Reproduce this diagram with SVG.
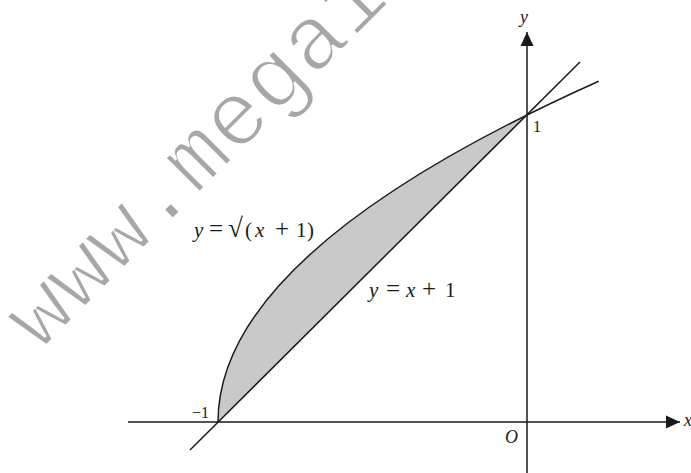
<svg xmlns="http://www.w3.org/2000/svg" width="691" height="473" viewBox="0 0 691 473">
<style>
.ax{stroke:#1a1a1a;stroke-width:1.5;fill:none}
.cv{stroke:#1a1a1a;stroke-width:1.5;fill:none}
.lb{font-family:"Liberation Serif","Times New Roman",serif;fill:#1a1a1a}
.it{font-style:italic}
.op{font-size:25px}
.wm{font-family:"Liberation Mono","Courier New",monospace;fill:#a7a7a9;stroke:#ffffff;stroke-width:2.5;paint-order:normal}
</style>
<defs>
<marker id="arr" markerUnits="userSpaceOnUse" markerWidth="15" markerHeight="14" refX="14" refY="7" orient="auto">
<path d="M0,0.5 L14,7 L0,13.5 Z" fill="#1a1a1a"/>
</marker>
</defs>
<rect width="691" height="473" fill="#ffffff"/>
<g id="watermark">
<text class="wm" x="40" y="352" font-size="92" transform="rotate(-45 40 352)">www.mega1</text>
</g>
<g id="region">
<path d="M218,422 Q218,268.5 527,115 Z" fill="#c9c9c9" stroke="none"/>
</g>
<g id="connectors">
<line id="x-axis" class="ax" x1="128" y1="422" x2="680" y2="422" marker-end="url(#arr)"/>
<line id="y-axis" class="ax" x1="527" y1="473" x2="527" y2="32" marker-end="url(#arr)"/>
<line id="line" class="cv" x1="190" y1="450" x2="580" y2="62"/>
<path id="curve" class="cv" d="M218,422 Q218,251.6 598.7,81.2"/>
</g>
<g id="labels">
<text class="lb" y="237" font-size="21"><tspan class="it" x="194">y</tspan><tspan class="op" x="209">=</tspan><tspan x="228" font-size="27">√</tspan><tspan x="245">(</tspan><tspan class="it" x="255">x</tspan><tspan class="op" x="275">+</tspan><tspan x="296">1</tspan><tspan x="307">)</tspan></text>
<text class="lb" y="297" font-size="21"><tspan class="it" x="369">y</tspan><tspan class="op" x="386">=</tspan><tspan class="it" x="406">x</tspan><tspan class="op" x="422">+</tspan><tspan x="445">1</tspan></text>
<text class="lb" x="192" y="418" font-size="16">−1</text>
<text class="lb" x="533" y="132" font-size="16">1</text>
<text class="lb it" x="520" y="23" font-size="18">y</text>
<text class="lb it" x="505" y="443" font-size="18">O</text>
<text class="lb it" x="684" y="426" font-size="18">x</text>
</g>
</svg>
